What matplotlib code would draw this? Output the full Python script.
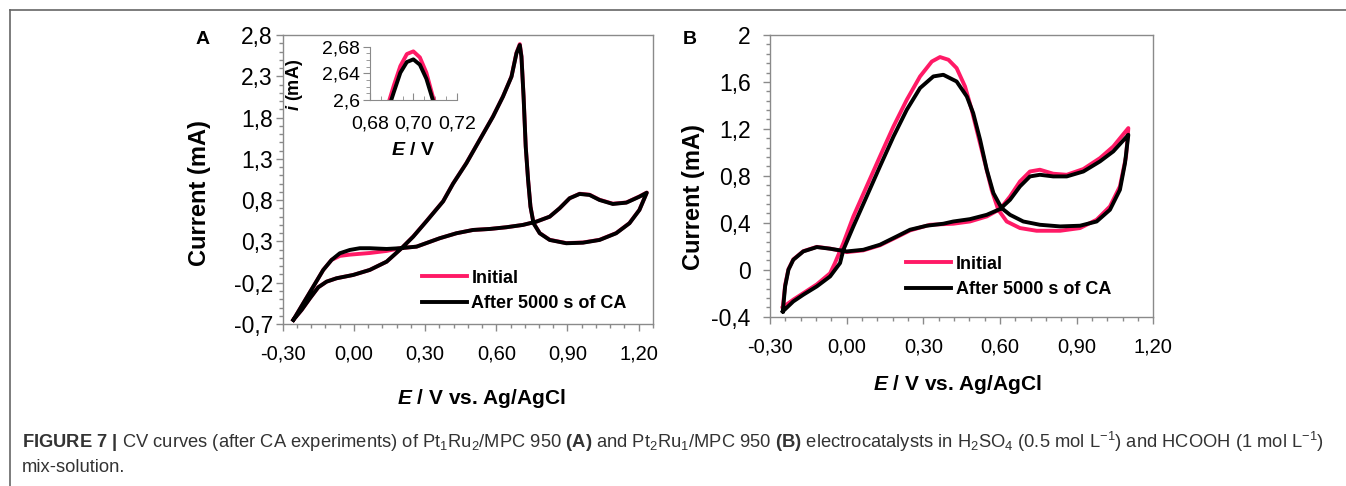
import matplotlib
matplotlib.use('Agg')
import matplotlib.pyplot as plt
from matplotlib.ticker import MultipleLocator, FuncFormatter
from matplotlib.lines import Line2D

plt.rcParams['font.family'] = ['Liberation Sans', 'DejaVu Sans']
plt.rcParams['mathtext.fontset'] = 'custom'
plt.rcParams['mathtext.rm'] = 'Liberation Sans'
plt.rcParams['mathtext.it'] = 'Liberation Sans:italic'
plt.rcParams['mathtext.bf'] = 'Liberation Sans:bold'
plt.rcParams['mathtext.bfit'] = 'Liberation Sans:italic:bold'

PINK = '#ff1a66'
GRAY = '#8a8a8a'

# ---- panel A : Pt1Ru2/MPC 950 (forward scan then reverse scan) ----
E_A_after = [-0.255, -0.213, -0.171, -0.129, -0.094, -0.059, -0.017, 0.025, 0.067, 0.138,
             0.194, 0.264, 0.362, 0.432, 0.502, 0.572, 0.643, 0.712, 0.769, 0.825,
             0.867, 0.909, 0.951, 0.993, 1.035, 1.091, 1.148, 1.203, 1.234,
             1.203, 1.161, 1.105, 1.035, 0.965, 0.895, 0.825, 0.783, 0.757, 0.744,
             0.734, 0.724, 0.715, 0.706, 0.699, 0.685, 0.664, 0.628, 0.586, 0.530,
             0.474, 0.418, 0.376, 0.306, 0.250, 0.201, 0.138, 0.067, -0.003, -0.073,
             -0.115, -0.150, -0.185, -0.220, -0.255]
I_A_after = [-0.650, -0.448, -0.247, -0.045, 0.076, 0.157, 0.197, 0.218, 0.218, 0.209,
             0.218, 0.237, 0.339, 0.399, 0.439, 0.451, 0.472, 0.500, 0.540, 0.600,
             0.702, 0.823, 0.875, 0.863, 0.802, 0.754, 0.770, 0.842, 0.890,
             0.681, 0.520, 0.399, 0.318, 0.285, 0.278, 0.318, 0.399, 0.520, 0.721,
             1.045, 1.448, 2.053, 2.537, 2.679, 2.578, 2.295, 2.053, 1.811, 1.529,
             1.247, 1.000, 0.785, 0.545, 0.358, 0.218, 0.055, -0.045, -0.106, -0.146,
             -0.187, -0.255, -0.388, -0.529, -0.650]

E_A_init = list(E_A_after)
I_A_init = [-0.650, -0.448, -0.247, -0.045, 0.076, 0.125, 0.140, 0.150, 0.160, 0.185,
            0.218, 0.237, 0.339, 0.399, 0.439, 0.451, 0.472, 0.500, 0.540, 0.600,
            0.702, 0.823, 0.878, 0.866, 0.805, 0.757, 0.772, 0.845, 0.892,
            0.683, 0.522, 0.401, 0.320, 0.287, 0.280, 0.320, 0.401, 0.522, 0.723,
            1.047, 1.450, 2.055, 2.545, 2.690, 2.585, 2.297, 2.055, 1.813, 1.531,
            1.249, 1.002, 0.787, 0.547, 0.360, 0.218, 0.055, -0.045, -0.106, -0.146,
            -0.187, -0.255, -0.388, -0.529, -0.650]

# inset: zoom on the reverse-scan peak
E_in = [0.688, 0.691, 0.694, 0.697, 0.700, 0.703, 0.706, 0.709, 0.711]
I_in_init = [2.590, 2.622, 2.651, 2.669, 2.673, 2.664, 2.641, 2.605, 2.585]
I_in_after = [2.582, 2.612, 2.641, 2.657, 2.661, 2.653, 2.632, 2.600, 2.580]

# ---- panel B : Pt2Ru1/MPC 950 ----
E_B_after = [-0.250, -0.241, -0.228, -0.209, -0.170, -0.117, -0.065, 0.000, 0.065, 0.130,
             0.196, 0.248, 0.313, 0.378, 0.417, 0.482, 0.548, 0.600, 0.639, 0.678,
             0.717, 0.756, 0.808, 0.861, 0.926, 0.991, 1.043, 1.096, 1.102,
             1.089, 1.069, 1.030, 0.978, 0.913, 0.835, 0.756, 0.691, 0.639, 0.606,
             0.574, 0.548, 0.522, 0.495, 0.470, 0.430, 0.378, 0.339, 0.287, 0.235,
             0.183, 0.130, 0.078, 0.026, -0.013, -0.026, -0.065, -0.117, -0.170, -0.209,
             -0.250]
I_B_after = [-0.355, -0.142, 0.000, 0.085, 0.156, 0.193, 0.179, 0.156, 0.170, 0.213,
             0.284, 0.341, 0.375, 0.392, 0.411, 0.431, 0.468, 0.517, 0.596, 0.710,
             0.795, 0.809, 0.795, 0.795, 0.837, 0.923, 1.008, 1.135, 1.150,
             0.909, 0.681, 0.511, 0.411, 0.375, 0.369, 0.383, 0.411, 0.468, 0.525,
             0.653, 0.852, 1.107, 1.334, 1.476, 1.604, 1.661, 1.647, 1.548, 1.363,
             1.135, 0.880, 0.624, 0.369, 0.170, 0.057, -0.057, -0.142, -0.213, -0.270,
             -0.355]

E_B_init = [-0.250, -0.241, -0.228, -0.209, -0.170, -0.117, -0.065, 0.000, 0.065, 0.130,
            0.196, 0.248, 0.326, 0.417, 0.482, 0.548, 0.600, 0.639, 0.678, 0.717,
            0.756, 0.808, 0.861, 0.926, 0.991, 1.043, 1.102,
            1.093, 1.069, 1.030, 0.978, 0.913, 0.835, 0.743, 0.678, 0.626, 0.593,
            0.567, 0.541, 0.515, 0.489, 0.463, 0.430, 0.398, 0.365, 0.333, 0.287,
            0.235, 0.183, 0.130, 0.078, 0.026, -0.013, -0.046, -0.065, -0.117, -0.170,
            -0.209, -0.250]
I_B_init = [-0.320, -0.130, 0.005, 0.088, 0.158, 0.195, 0.180, 0.150, 0.165, 0.208,
            0.278, 0.335, 0.383, 0.392, 0.411, 0.454, 0.517, 0.624, 0.752, 0.837,
            0.852, 0.818, 0.809, 0.858, 0.951, 1.050, 1.207,
            0.965, 0.710, 0.539, 0.426, 0.355, 0.332, 0.332, 0.355, 0.411, 0.511,
            0.681, 0.909, 1.135, 1.363, 1.561, 1.718, 1.789, 1.812, 1.774, 1.647,
            1.448, 1.221, 0.965, 0.710, 0.454, 0.227, 0.057, -0.030, -0.125, -0.200,
            -0.255, -0.320]

labels = ['Initial', 'After 5000 s of CA']


def comma(fmt):
    return FuncFormatter(lambda v, p: (fmt % v).replace('.', ','))


def style_axes(ax):
    for s in ax.spines.values():
        s.set_color(GRAY)
        s.set_linewidth(1.0)
    ax.tick_params(which='both', direction='out', color=GRAY, width=1.0)
    ax.tick_params(axis='y', labelsize=16.5)
    ax.tick_params(axis='x', labelsize=14.5, pad=10)
    ax.tick_params(which='major', length=5)
    ax.tick_params(which='minor', length=3)


fig = plt.figure(figsize=(13.46, 4.86), dpi=100)

# panel A
axA = fig.add_axes([0.2100, 0.3333, 0.2751, 0.5947])
axA.plot(E_A_init, I_A_init, color=PINK, lw=2.8, solid_joinstyle='round', label=labels[0])
axA.plot(E_A_after, I_A_after, color='black', lw=2.8, solid_joinstyle='round', label=labels[1])
axA.set_xlim(-0.30, 1.26)
axA.set_ylim(-0.7, 2.8)
axA.xaxis.set_major_locator(MultipleLocator(0.30))
axA.xaxis.set_minor_locator(MultipleLocator(0.06))
axA.yaxis.set_major_locator(MultipleLocator(0.5, offset=0.3))
axA.yaxis.set_minor_locator(MultipleLocator(0.1))
axA.xaxis.set_major_formatter(comma('%.2f'))
axA.yaxis.set_major_formatter(comma('%.1f'))
style_axes(axA)
axA.tick_params(axis='y', pad=2)
axA.set_ylabel('Current (mA)', fontsize=17, fontweight='bold')
axA.yaxis.set_label_coords(-0.194, 0.453)
axA.set_xlabel(r'$\mathbfit{E}$ / V vs. Ag/AgCl', fontsize=15, fontweight='bold')
axA.xaxis.set_label_coords(0.538, -0.218)
axA.legend(loc='upper left', bbox_to_anchor=(0.351, 0.219), frameon=False, borderpad=0,
           handlelength=2.5, handletextpad=0.26, labelspacing=0.47,
           prop={'weight': 'bold', 'size': 13})
fig.text(203 / 1346, 1 - 40 / 486, 'A', fontsize=14, fontweight='bold', ha='center', va='center')

# inset of panel A
axI = fig.add_axes([0.2749, 0.7942, 0.0644, 0.1097])
axI.plot(E_in, I_in_init, color=PINK, lw=2.8)
axI.plot(E_in, I_in_after, color='black', lw=2.8)
axI.set_xlim(0.68, 0.72)
axI.set_ylim(2.6, 2.68)
axI.spines['top'].set_visible(False)
axI.spines['right'].set_visible(False)
axI.xaxis.set_major_locator(MultipleLocator(0.02))
axI.xaxis.set_minor_locator(MultipleLocator(0.005))
axI.yaxis.set_major_locator(MultipleLocator(0.04))
axI.yaxis.set_minor_locator(MultipleLocator(0.01))
axI.xaxis.set_major_formatter(comma('%.2f'))
axI.yaxis.set_major_formatter(comma('%g'))
for s in axI.spines.values():
    s.set_color(GRAY)
axI.tick_params(which='both', color=GRAY, labelsize=14)
axI.tick_params(axis='x', which='both', direction='in', pad=11)
axI.tick_params(axis='y', which='both', direction='out', pad=2)
axI.tick_params(which='major', length=5)
axI.tick_params(which='minor', length=3)
axI.set_ylabel(r'$\mathbfit{i}$ (mA)', fontsize=13, fontweight='bold')
axI.yaxis.set_label_coords(-0.75, 0.28)
axI.set_xlabel(r'$\mathbfit{E}$ / V', fontsize=14, fontweight='bold', labelpad=7)

# panel B
axB = fig.add_axes([0.5721, 0.3484, 0.2848, 0.5796])
axB.plot(E_B_init, I_B_init, color=PINK, lw=2.8, solid_joinstyle='round', label=labels[0])
axB.plot(E_B_after, I_B_after, color='black', lw=2.8, solid_joinstyle='round', label=labels[1])
axB.set_xlim(-0.30, 1.20)
axB.set_ylim(-0.4, 2.0)
axB.xaxis.set_major_locator(MultipleLocator(0.30))
axB.xaxis.set_minor_locator(MultipleLocator(0.06))
axB.yaxis.set_major_locator(MultipleLocator(0.4))
axB.yaxis.set_minor_locator(MultipleLocator(0.08))
axB.xaxis.set_major_formatter(comma('%.2f'))
axB.yaxis.set_major_formatter(comma('%g'))
style_axes(axB)
axB.tick_params(axis='y', pad=9)
axB.set_ylabel('Current (mA)', fontsize=17, fontweight='bold')
axB.yaxis.set_label_coords(-0.170, 0.425)
axB.set_xlabel(r'$\mathbfit{E}$ / V vs. Ag/AgCl', fontsize=15, fontweight='bold')
axB.xaxis.set_label_coords(0.49, -0.200)
axB.legend(loc='upper left', bbox_to_anchor=(0.331, 0.249), frameon=False, borderpad=0,
           handlelength=2.5, handletextpad=0.26, labelspacing=0.47,
           prop={'weight': 'bold', 'size': 13})
fig.text(690 / 1346, 1 - 40 / 486, 'B', fontsize=14, fontweight='bold', ha='center', va='center')

# page frame and caption
fig.add_artist(Line2D([10 / 1346, 1], [1 - 10.5 / 486, 1 - 10.5 / 486], color='#666666', lw=1.2))
fig.add_artist(Line2D([10 / 1346, 10 / 1346], [0, 1 - 10.5 / 486], color='#666666', lw=1.2))

cap1 = (r'$\mathbf{FIGURE\ 7\ |}$ CV curves (after CA experiments) of Pt$_1$Ru$_2$/MPC 950 '
        r'$\mathbf{(A)}$ and Pt$_2$Ru$_1$/MPC 950 $\mathbf{(B)}$ electrocatalysts in '
        r'H$_2$SO$_4$ (0.5 mol L$^{-1}$) and HCOOH (1 mol L$^{-1}$)')
fig.text(22 / 1346, 1 - 442 / 486, cap1, fontsize=13.2, color='#333333', va='center', ha='left')
fig.text(22 / 1346, 1 - 467 / 486, 'mix-solution.', fontsize=13.2, color='#333333',
         va='center', ha='left')

fig.savefig('out.png', dpi=100)
